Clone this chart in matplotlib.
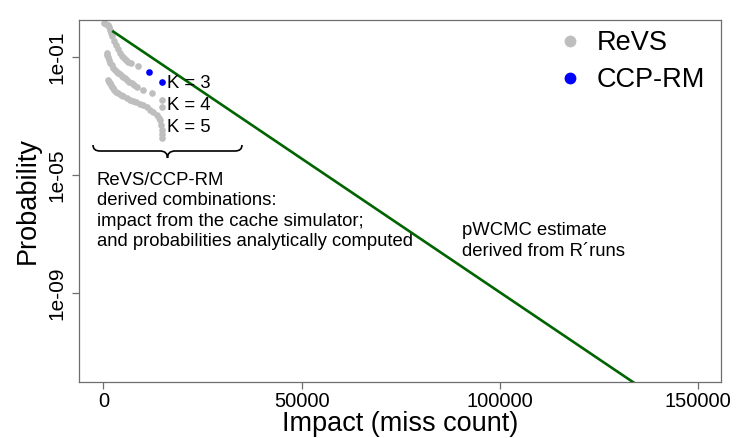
import numpy as np
import matplotlib
matplotlib.use("Agg")
import matplotlib.pyplot as plt
from matplotlib.path import Path
from matplotlib.patches import PathPatch
from matplotlib.lines import Line2D
from matplotlib.transforms import Affine2D

plt.rcParams['font.family'] = ['Liberation Sans', 'DejaVu Sans']

# ---------------- data ----------------
# ReVS derived combinations, three families (log10 of probability)
revs_a_impact = [150, 660, 1160, 1410, 1670, 1920, 2170, 2670, 3180, 3680,
                 4190, 4690, 5200, 5700, 6210, 6960, 8730]
revs_a_logp = [0.136, 0.119, 0.085, 0.017, -0.085, -0.186, -0.288, -0.458,
               -0.593, -0.729, -0.864, -0.966, -1.051, -1.119, -1.169,
               -1.220, -1.305]

revs_b_impact = [833, 984, 1161, 1413, 1665, 2044, 2422, 2927, 3356, 3759,
                 4188, 4567, 4945, 5450, 5954, 6535, 7140, 7720, 8402, 9991,
                 12186, 14709, 14709]
revs_b_logp = [-0.875, -0.932, -1.000, -1.102, -1.203, -1.288, -1.373, -1.441,
               -1.498, -1.549, -1.593, -1.631, -1.668, -1.725, -1.780, -1.837,
               -1.892, -1.949, -2.007, -2.119, -2.231, -2.458, -2.685]

revs_c_impact = [1236, 1413, 1665, 1867, 2094, 2372, 2674, 3179, 3759, 4340,
                 4945, 5828, 6711, 7468, 8225, 9108, 9991, 10874, 11757, 12590,
                 13448, 13902, 14280, 14532, 14709, 14709, 14709]
revs_c_logp = [-1.780, -1.847, -1.898, -1.949, -2.007, -2.061, -2.119, -2.176,
               -2.231, -2.288, -2.339, -2.400, -2.458, -2.502, -2.542, -2.583,
               -2.627, -2.712, -2.797, -2.881, -2.966, -3.053, -3.136, -3.305,
               -3.475, -3.610, -3.756]

# CCP-RM points
ccp_impact = [11505, 14780]
ccp_logp = [-1.508, -1.847]

# pWCMC estimate line
pwcmc_impact = [2500, 150000]
pwcmc_logp = [-0.14, -13.51]

xticks = [0, 50000, 100000, 150000]
xtick_labels = ["0", "50000", "100000", "150000"]
yticks = [1e-1, 1e-5, 1e-9]
ytick_labels = ["1e-01", "1e-05", "1e-09"]

k_labels = ["K = 3", "K = 4", "K = 5"]
legend_labels = ["ReVS", "CCP-RM"]

GRAY = "#BEBEBE"
BLUE = "#0000FF"
GREEN = "#006400"
AXC = "#6E6E6E"

# ---------------- figure ----------------
W, H = 736, 438
fig = plt.figure(figsize=(W / 100, H / 100), dpi=100)
ax = fig.add_axes([79 / W, 1 - 382 / H, 642 / W, 362 / H])
px = Affine2D().scale(1 / W, -1 / H).translate(0, 1) + fig.transFigure

ax.set_yscale('log')
ax.set_xlim(-6155, 155800)
ax.set_ylim(10 ** -12.02, 10 ** 0.254)

ms = 4.8
for imp, lp in [(revs_a_impact, revs_a_logp), (revs_b_impact, revs_b_logp),
                (revs_c_impact, revs_c_logp)]:
    ax.plot(imp, 10.0 ** np.array(lp), 'o', color=GRAY, ms=ms, mew=0, zorder=2)
ax.plot(ccp_impact, 10.0 ** np.array(ccp_logp), 'o', color=BLUE, ms=ms, mew=0,
        zorder=3)
ax.plot(pwcmc_impact, 10.0 ** np.array(pwcmc_logp), '-', color=GREEN, lw=1.9,
        zorder=4)

# axes styling
for s in ax.spines.values():
    s.set_color(AXC)
    s.set_linewidth(0.9)
ax.set_xticks(xticks)
ax.set_xticklabels(xtick_labels)
ax.set_yticks(yticks)
ax.set_yticklabels(ytick_labels, rotation=90, va='center')
ax.minorticks_off()
ax.tick_params(axis='both', direction='out', length=5, width=0.9, color=AXC,
               labelsize=15, labelcolor='black')
ax.tick_params(axis='x', pad=2.5, labelsize=14.5)
ax.tick_params(axis='y', pad=4)

ax.set_xlabel("Impact (miss count)", fontsize=19.5, labelpad=0)
ax.set_ylabel("Probability", fontsize=19.5, labelpad=5)

# legend
handles = [Line2D([], [], marker='o', ls='', color=GRAY, ms=8.5, mew=0),
           Line2D([], [], marker='o', ls='', color=BLUE, ms=8.5, mew=0)]
ax.legend(handles, legend_labels, loc='upper left',
          bbox_to_anchor=(562, 30), bbox_transform=px, frameon=False,
          fontsize=19.5, handlelength=0.6, handletextpad=0.69,
          labelspacing=0.42, borderpad=0, borderaxespad=0)

# K labels
for lab, yy in zip(k_labels, [84, 105.7, 127]):
    ax.text(167, yy, lab, transform=px, fontsize=13.3, ha='left', va='center',
            zorder=6)

# brace
verts = [(93, 145), (93, 151), (100, 151),
         (160, 151),
         (167.5, 151), (167.5, 158),
         (167.5, 151), (175, 151),
         (235, 151),
         (242, 151), (242, 145)]
codes = [Path.MOVETO, Path.CURVE3, Path.CURVE3,
         Path.LINETO,
         Path.CURVE3, Path.CURVE3,
         Path.CURVE3, Path.CURVE3,
         Path.LINETO,
         Path.CURVE3, Path.CURVE3]
ax.add_patch(PathPatch(Path(verts, codes), transform=px, fill=False,
                       edgecolor='black', lw=1.2, clip_on=False))

ax.text(96.7, 211, "ReVS/CCP-RM\nderived combinations:\n"
        "impact from the cache simulator;\nand probabilities analytically computed",
        transform=px, fontsize=13.3, ha='left', va='center', linespacing=1.25)
ax.text(461.7, 241, "pWCMC estimate\nderived from R\u00b4runs",
        transform=px, fontsize=13.3, ha='left', va='center', linespacing=1.25)

fig.savefig("out.png", dpi=100)
